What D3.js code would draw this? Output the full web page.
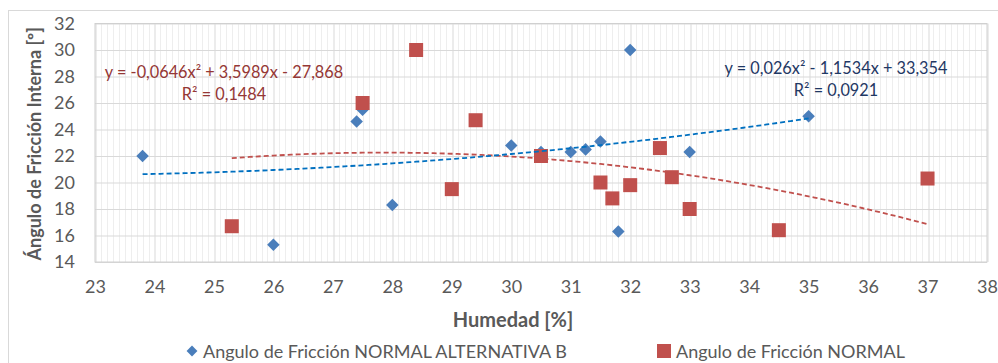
<!DOCTYPE html>
<html>
<head>
<meta charset="utf-8">
<script src="https://cdn.jsdelivr.net/npm/d3@7"></script>
<style>
  body { margin: 0; background: #fff; }
  svg { display: block; }
  text { font-family: Lato, "Open Sans", sans-serif; }
</style>
</head>
<body>
<svg id="chart" width="998" height="363"></svg>
<script>
// series: Angulo de Fricción NORMAL ALTERNATIVA B (diamonds)
const humedadB = [23.8, 26, 27.4, 27.5, 28, 30, 30.5, 31, 31.25, 31.5, 31.8, 32, 33, 35];
const anguloB  = [22, 15.3, 24.6, 25.5, 18.3, 22.8, 22.3, 22.3, 22.5, 23.1, 16.3, 30, 22.3, 25];

// series: Angulo de Fricción NORMAL (squares)
const humedadN = [25.3, 27.5, 28.4, 29, 29.4, 30.5, 31.5, 31.7, 32, 32.5, 32.7, 33, 34.5, 37];
const anguloN  = [16.7, 26, 30, 19.5, 24.7, 22, 20, 18.8, 19.8, 22.6, 20.4, 18, 16.4, 20.3];

// polynomial trendlines (a*x^2 + b*x + c), as printed on the chart
const trendB = [0.026, -1.1534, 33.354];
const trendN = [-0.0646, 3.5989, -27.868];
const eqB = ['y = 0,026x² - 1,1534x + 33,354', 'R² = 0,0921'];
const eqN = ['y = -0,0646x² + 3,5989x - 27,868', 'R² = 0,1484'];

const xTicks = [23, 24, 25, 26, 27, 28, 29, 30, 31, 32, 33, 34, 35, 36, 37, 38];
const yTicks = [14, 16, 18, 20, 22, 24, 26, 28, 30, 32];
const seriesNames = ['Angulo de Fricción NORMAL ALTERNATIVA B', 'Angulo de Fricción NORMAL'];

const svg = d3.select('#chart');
const margin = { left: 95, top: 23.5, right: 11, bottom: 101 };
const width = 998 - margin.left - margin.right;
const height = 363 - margin.top - margin.bottom;

const blue = '#4a7ebb';
const red = '#c0504d';
const textGray = '#595959';

// outer chart border
svg.append('rect')
  .attr('x', 8.5).attr('y', 10.5)
  .attr('width', 1000).attr('height', 400)
  .attr('fill', 'none').attr('stroke', '#d9d9d9');

const g = svg.append('g')
  .attr('transform', 'translate(' + margin.left + ',' + margin.top + ')');

const x = d3.scaleLinear().domain([23, 38]).range([0, width]);
const y = d3.scaleLinear().domain([14, 32]).range([height, 0]);

// minor vertical gridlines
g.append('g')
  .selectAll('line')
  .data(d3.range(230, 381).map(d => d / 10).filter(d => d % 1 !== 0))
  .enter().append('line')
  .attr('x1', d => Math.round(x(d)) + 0.5).attr('x2', d => Math.round(x(d)) + 0.5)
  .attr('y1', 0).attr('y2', height)
  .attr('stroke', '#eeeeee');

// major gridlines
g.append('g')
  .call(d3.axisBottom(x).tickValues(xTicks).tickSize(height).tickFormat(''))
  .call(a => a.select('.domain').remove())
  .call(a => a.selectAll('line').attr('stroke', '#d9d9d9')
    .attr('transform', d => 'translate(' + (Math.round(x(d)) + 0.5 - x(d)) + ',0)'));

g.append('g')
  .call(d3.axisLeft(y).tickValues(yTicks).tickSize(-width).tickFormat(''))
  .call(a => a.select('.domain').remove())
  .call(a => a.selectAll('line').attr('stroke', '#d9d9d9'));

// plot area border
g.append('rect')
  .attr('x', 0).attr('y', 0).attr('width', width).attr('height', height)
  .attr('fill', 'none').attr('stroke', '#d0d0d0');

// tick labels
g.append('g')
  .attr('transform', 'translate(0,' + height + ')')
  .call(d3.axisBottom(x).tickValues(xTicks).tickSize(0).tickPadding(18))
  .call(a => a.select('.domain').remove())
  .call(a => a.selectAll('text').attr('fill', textGray).style('font-size', '18px'));

g.append('g')
  .call(d3.axisLeft(y).tickValues(yTicks).tickSize(0).tickPadding(20))
  .call(a => a.select('.domain').remove())
  .call(a => a.selectAll('text').attr('fill', textGray).style('font-size', '18px'));

// axis titles
svg.append('text')
  .attr('x', 513).attr('y', 327)
  .attr('text-anchor', 'middle')
  .attr('fill', textGray).style('font-size', '20px').style('font-weight', 'bold')
  .text('Humedad [%]');

svg.append('text')
  .attr('transform', 'translate(41,' + (margin.top + height / 2 + 1) + ') rotate(-90)')
  .attr('text-anchor', 'middle')
  .attr('fill', textGray).style('font-size', '18px').style('font-weight', 'bold')
  .text('Ángulo de Fricción Interna [º]');

// markers
const diamond = d3.symbol().type(d3.symbolDiamond2).size(100);
g.append('g')
  .selectAll('path')
  .data(humedadB.map((h, i) => [h, anguloB[i]]))
  .enter().append('path')
  .attr('d', diamond)
  .attr('transform', d => 'translate(' + x(d[0]) + ',' + y(d[1]) + ')')
  .attr('fill', blue);

g.append('g')
  .selectAll('rect')
  .data(humedadN.map((h, i) => [h, anguloN[i]]))
  .enter().append('rect')
  .attr('x', d => x(d[0]) - 7).attr('y', d => y(d[1]) - 7)
  .attr('width', 14).attr('height', 14)
  .attr('fill', red);

// trendlines
function trend(coef, xs) {
  const lo = d3.min(xs), hi = d3.max(xs);
  const pts = d3.range(lo, hi, 0.1).concat([hi]);
  return pts.map(v => [v, coef[0] * v * v + coef[1] * v + coef[2]]);
}
const line = d3.line().x(d => x(d[0])).y(d => y(d[1]));

g.append('path')
  .datum(trend(trendN, humedadN))
  .attr('d', line)
  .attr('fill', 'none').attr('stroke', '#c0504d')
  .attr('stroke-width', 1.8).attr('stroke-dasharray', '5,3');

g.append('path')
  .datum(trend(trendB, humedadB))
  .attr('d', line)
  .attr('fill', 'none').attr('stroke', '#0070c0')
  .attr('stroke-width', 1.8).attr('stroke-dasharray', '5,3');

// trendline equations
svg.append('text')
  .attr('x', 224).attr('y', 78).attr('text-anchor', 'middle')
  .attr('fill', '#953735').style('font-size', '16.3px')
  .text(eqN[0]);
svg.append('text')
  .attr('x', 224).attr('y', 100).attr('text-anchor', 'middle')
  .attr('fill', '#953735').style('font-size', '16.3px')
  .text(eqN[1]);

svg.append('text')
  .attr('x', 836).attr('y', 74).attr('text-anchor', 'middle')
  .attr('fill', '#1f3864').style('font-size', '16.3px')
  .text(eqB[0]);
svg.append('text')
  .attr('x', 836).attr('y', 96).attr('text-anchor', 'middle')
  .attr('fill', '#1f3864').style('font-size', '16.3px')
  .text(eqB[1]);

// legend
const legend = svg.append('g');
legend.append('path')
  .attr('d', d3.symbol().type(d3.symbolDiamond2).size(75))
  .attr('transform', 'translate(192,351)')
  .attr('fill', blue);
legend.append('text')
  .attr('x', 203).attr('y', 358)
  .attr('fill', textGray).style('font-size', '18px')
  .text(seriesNames[0]);
legend.append('rect')
  .attr('x', 657).attr('y', 344).attr('width', 14).attr('height', 14)
  .attr('fill', red);
legend.append('text')
  .attr('x', 676).attr('y', 358)
  .attr('fill', textGray).style('font-size', '18px')
  .text(seriesNames[1]);
</script>
</body>
</html>
